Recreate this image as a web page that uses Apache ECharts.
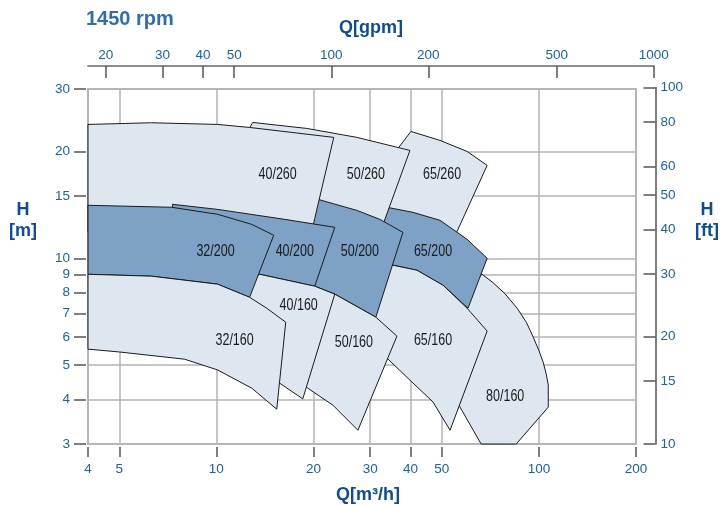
<!DOCTYPE html>
<html>
<head>
<meta charset="utf-8">
<title>1450 rpm pump range</title>
<script src="https://cdn.jsdelivr.net/npm/echarts@6.0.0/dist/echarts.min.js"></script>
<style>
  html, body { margin: 0; padding: 0; background: #ffffff; }
  #chart { width: 721px; height: 506px; }
</style>
</head>
<body>
<div id="chart"></div>
<script>
// Pump models, in drawing order (each one is painted over the previous ones).
const PUMP_MODELS = ['80/160', '65/260', '65/200', '65/160', '50/260', '50/200',
                     '50/160', '40/260', '40/200', '40/160', '32/200', '32/160'];

// Operating-range outlines, vertices as [Q m³/h, H m].
const OUTLINE_80_160 = [[66.67, 9.02], [72.0, 8.55], [78.5, 7.95], [85.6, 7.24], [91.5, 6.6], [96.04, 6.0],
  [100.0, 5.5], [103.1, 5.1], [105.5, 4.7], [106.9, 4.4], [106.9, 3.81], [85.04, 3.0], [66.2, 3.0],
  [56.96, 3.81], [54.98, 4.12], [61.17, 8.4]];
const OUTLINE_65_260 = [[40.11, 22.78], [49.37, 21.49], [59.87, 20.01], [69.11, 18.28], [55.77, 11.92],
  [53.04, 10.54], [42.77, 10.89], [31.0, 12.0], [35.78, 19.88]];
const OUTLINE_65_200 = [[33.78, 13.93], [40.69, 13.48], [49.37, 12.8], [59.87, 11.32], [69.11, 10.01],
  [60.3, 7.24], [50.45, 8.4], [41.87, 9.26], [35.26, 9.57], [33.3, 9.75], [32.6, 13.31]];
const OUTLINE_65_160 = [[35.26, 9.57], [41.87, 9.26], [50.45, 8.4], [59.87, 7.24], [69.11, 6.24],
  [53.04, 3.28], [46.95, 3.94], [39.82, 4.54], [33.78, 5.24], [30.34, 5.51], [31.0, 7.63], [33.3, 9.38]];
const OUTLINE_50_260 = [[12.96, 24.15], [19.07, 23.23], [27.27, 21.92], [39.82, 20.14], [33.06, 12.64],
  [31.0, 10.89], [20.92, 11.62], [18.13, 12.39], [18.13, 14.57], [12.5, 22.78]];
const OUTLINE_50_200 = [[20.63, 14.67], [27.27, 13.65], [32.13, 12.88], [37.88, 11.84], [31.22, 6.83],
  [23.29, 7.93], [20.19, 8.35], [18.13, 11.25], [19.48, 13.48]];
const OUTLINE_50_160 = [[19.48, 8.14], [23.29, 7.93], [31.22, 6.83], [36.29, 6.04], [27.47, 3.28],
  [22.97, 3.86], [19.2, 4.31], [17.87, 4.54]];
const OUTLINE_40_260 = [[4, 23.84], [6.29, 24.1], [10.09, 23.84], [12.68, 23.38], [23.12, 21.92],
  [20.19, 12.97], [19.2, 10.54], [13.62, 10.89], [4, 11.84]];
const OUTLINE_40_200 = [[7.31, 14.2], [10.09, 13.74], [16.29, 12.88], [23.29, 12.23], [20.19, 8.35],
  [13.62, 9.02], [11.8, 9.38], [7.26, 9.75]];
const OUTLINE_40_160 = [[13.62, 9.02], [20.19, 8.35], [23.29, 7.93], [18.53, 4.02], [15.72, 4.45],
  [14.12, 4.69], [12.68, 6.28], [11.8, 8.24]];
const OUTLINE_32_200 = [[4, 14.11], [7.26, 13.93], [10.09, 13.31], [12.87, 12.47], [15.06, 11.62],
  [12.68, 7.77], [10.09, 8.46], [6.29, 8.91], [4, 9.02]];
const OUTLINE_32_160 = [[4, 9.02], [6.29, 8.91], [10.09, 8.46], [12.68, 7.77], [14.32, 7.24], [16.41, 6.61],
  [15.39, 3.76], [12.87, 4.31], [10.09, 4.85], [7.97, 5.2], [5.0, 5.45], [4, 5.55]];

const PUMP_OUTLINES = [OUTLINE_80_160, OUTLINE_65_260, OUTLINE_65_200, OUTLINE_65_160,
  OUTLINE_50_260, OUTLINE_50_200, OUTLINE_50_160, OUTLINE_40_260, OUTLINE_40_200,
  OUTLINE_40_160, OUTLINE_32_200, OUTLINE_32_160];

// Where each model name sits, [Q m³/h] and [H m].
const LABEL_Q = [78.6, 50.1, 46.95, 46.95, 29.08, 27.86, 26.69, 15.49, 17.5, 18.0, 9.94, 11.39];
const LABEL_H = [4.09, 17.25, 10.47, 5.88, 17.25, 10.47, 5.81, 17.25, 10.47, 7.38, 10.47, 5.88];

// Axis ticks.
const Q_M3H_TICKS = [4, 5, 10, 20, 30, 40, 50, 100, 200];
const Q_GPM_TICKS = [20, 30, 40, 50, 100, 200, 500, 1000];
const H_M_TICKS = [3, 4, 5, 6, 7, 8, 9, 10, 15, 20, 30];
const H_FT_TICKS = [10, 15, 20, 30, 40, 50, 60, 80, 100];

const GPM_PER_M3H = 4.403;

// ---- layout ----
const lg = Math.log10;
const PLOT_L = 88, PLOT_R = 636, PLOT_T = 89, PLOT_B = 444;
const Q_MIN = Q_M3H_TICKS[0], Q_MAX = Q_M3H_TICKS[Q_M3H_TICKS.length - 1];
const GPM_MIN = Q_MIN * GPM_PER_M3H, GPM_MAX = Q_GPM_TICKS[Q_GPM_TICKS.length - 1];
const PX_PER_DECADE = (PLOT_R - PLOT_L) / (lg(Q_MAX) - lg(Q_MIN));
const GPM_AXIS_R = PLOT_L + PX_PER_DECADE * (lg(GPM_MAX) - lg(GPM_MIN));
const FT_AXIS_X = 656.5, FT_AXIS_T = 87.5;

const LIGHT = '#dee6f0';
const DARK = '#7da2c6';
const EDGE = '#1b1b1b';
const TICK_BLUE = '#2160a6';
const NAME_BLUE = '#0f4c96';
const FONT = '"Liberation Sans", Arial, Helvetica, sans-serif';

const fmtPow = v => String(Math.round(Math.pow(10, v)));
const tickLabel = { color: TICK_BLUE, fontSize: 13.5, fontFamily: FONT, formatter: fmtPow };
const tickLine = { color: '#555555', width: 1.5 };
const gridLine = { color: '#b3b3b3', width: 1.5 };

const chart = echarts.init(document.getElementById('chart'), null, { renderer: 'canvas' });

const axisNameText = (text, x, y) => ({
  type: 'text', x: x, y: y,
  style: { text: text, font: 'bold 18px ' + FONT, fill: NAME_BLUE,
           align: 'center', verticalAlign: 'middle', textAlign: 'center', textVerticalAlign: 'middle' }
});

const option = {
  animation: false,
  backgroundColor: '#ffffff',
  title: {
    text: '1450 rpm', left: 81, top: 4,
    textStyle: { fontSize: 20, fontWeight: 'bold', color: '#2f6db2', fontFamily: FONT }
  },
  grid: [
    { left: PLOT_L, top: PLOT_T, width: PLOT_R - PLOT_L, height: PLOT_B - PLOT_T,
      show: true, borderColor: '#bcbcbc', borderWidth: 2, backgroundColor: 'transparent',
      containLabel: false, outerBoundsMode: 'none' },
    { left: PLOT_L, top: 65, width: GPM_AXIS_R - PLOT_L, height: 1,
      containLabel: false, outerBoundsMode: 'none' },
    { left: FT_AXIS_X - 1, top: FT_AXIS_T, width: 1, height: PLOT_B - FT_AXIS_T,
      containLabel: false, outerBoundsMode: 'none' }
  ],
  xAxis: [
    { // Q [m³/h]
      type: 'value', gridIndex: 0, min: lg(Q_MIN), max: lg(Q_MAX), offset: 3,
      name: 'Q[m³/h]', nameLocation: 'middle', nameGap: 39,
      nameTextStyle: { fontSize: 18, fontWeight: 'bold', color: NAME_BLUE, fontFamily: FONT, padding: [0, 0, 0, 12] },
      axisLine: { show: false },
      axisTick: { show: true, length: 10, lineStyle: tickLine, customValues: Q_M3H_TICKS.map(lg) },
      axisLabel: Object.assign({ margin: 15, customValues: Q_M3H_TICKS.map(lg) }, tickLabel),
      splitLine: { show: true, lineStyle: gridLine }
    },
    { // Q [gpm]
      type: 'value', gridIndex: 1, position: 'top', min: lg(GPM_MIN), max: lg(GPM_MAX),
      name: 'Q[gpm]', nameLocation: 'middle', nameGap: 28,
      nameTextStyle: { fontSize: 18, fontWeight: 'bold', color: NAME_BLUE, fontFamily: FONT },
      axisLine: { show: true, lineStyle: { color: '#8c8c8c', width: 2 } },
      axisTick: { show: true, inside: true, length: 12, lineStyle: tickLine, customValues: Q_GPM_TICKS.map(lg) },
      axisLabel: Object.assign({ margin: 3, customValues: Q_GPM_TICKS.map(lg) }, tickLabel),
      splitLine: { show: false }
    },
    { type: 'value', gridIndex: 2, show: false }
  ],
  yAxis: [
    { // H [m]
      type: 'value', gridIndex: 0, min: lg(H_M_TICKS[0]), max: lg(H_M_TICKS[H_M_TICKS.length - 1]), offset: 2,
      axisLine: { show: false },
      axisTick: { show: true, length: 12, lineStyle: tickLine, customValues: H_M_TICKS.map(lg) },
      axisLabel: Object.assign({ margin: 16, customValues: H_M_TICKS.map(lg) }, tickLabel),
      splitLine: { show: true, lineStyle: gridLine }
    },
    { type: 'value', gridIndex: 1, show: false },
    { // H [ft]
      type: 'value', gridIndex: 2, position: 'right',
      min: lg(H_FT_TICKS[0]), max: lg(H_FT_TICKS[H_FT_TICKS.length - 1]),
      axisLine: { show: true, lineStyle: { color: '#555555', width: 1.5 } },
      axisTick: { show: true, inside: true, length: 12, lineStyle: tickLine, customValues: H_FT_TICKS.map(lg) },
      axisLabel: Object.assign({ margin: 4, customValues: H_FT_TICKS.map(lg) }, tickLabel),
      splitLine: { show: false }
    }
  ],
  graphic: [
    axisNameText('H', 23, 210),
    axisNameText('[m]', 23, 231),
    axisNameText('H', 707, 210),
    axisNameText('[ft]', 707, 231)
  ],
  series: [{
    type: 'custom',
    name: 'Pump ranges',
    xAxisIndex: 0, yAxisIndex: 0,
    clip: false,
    encode: { x: 0, y: 1 },
    data: PUMP_MODELS.map((m, i) => [lg(LABEL_Q[i]), lg(LABEL_H[i])]),
    renderItem: function (params, api) {
      const i = params.dataIndex;
      const points = PUMP_OUTLINES[i].map(p => api.coord([lg(p[0]), lg(p[1])]));
      const c = api.coord([api.value(0), api.value(1)]);
      const isDark = PUMP_MODELS[i].slice(-3) === '200';
      return {
        type: 'group',
        children: [
          { type: 'polygon', shape: { points: points },
            style: { fill: isDark ? DARK : LIGHT, stroke: EDGE, lineWidth: 1, lineJoin: 'miter' } },
          { // condensed model name
            type: 'text', x: c[0], y: c[1], scaleX: 0.78, scaleY: 1,
            style: { text: PUMP_MODELS[i], fill: '#1a1a1a', font: '16px ' + FONT,
                     align: 'center', verticalAlign: 'middle' } }
        ]
      };
    }
  }]
};

chart.setOption(option);
</script>
</body>
</html>
